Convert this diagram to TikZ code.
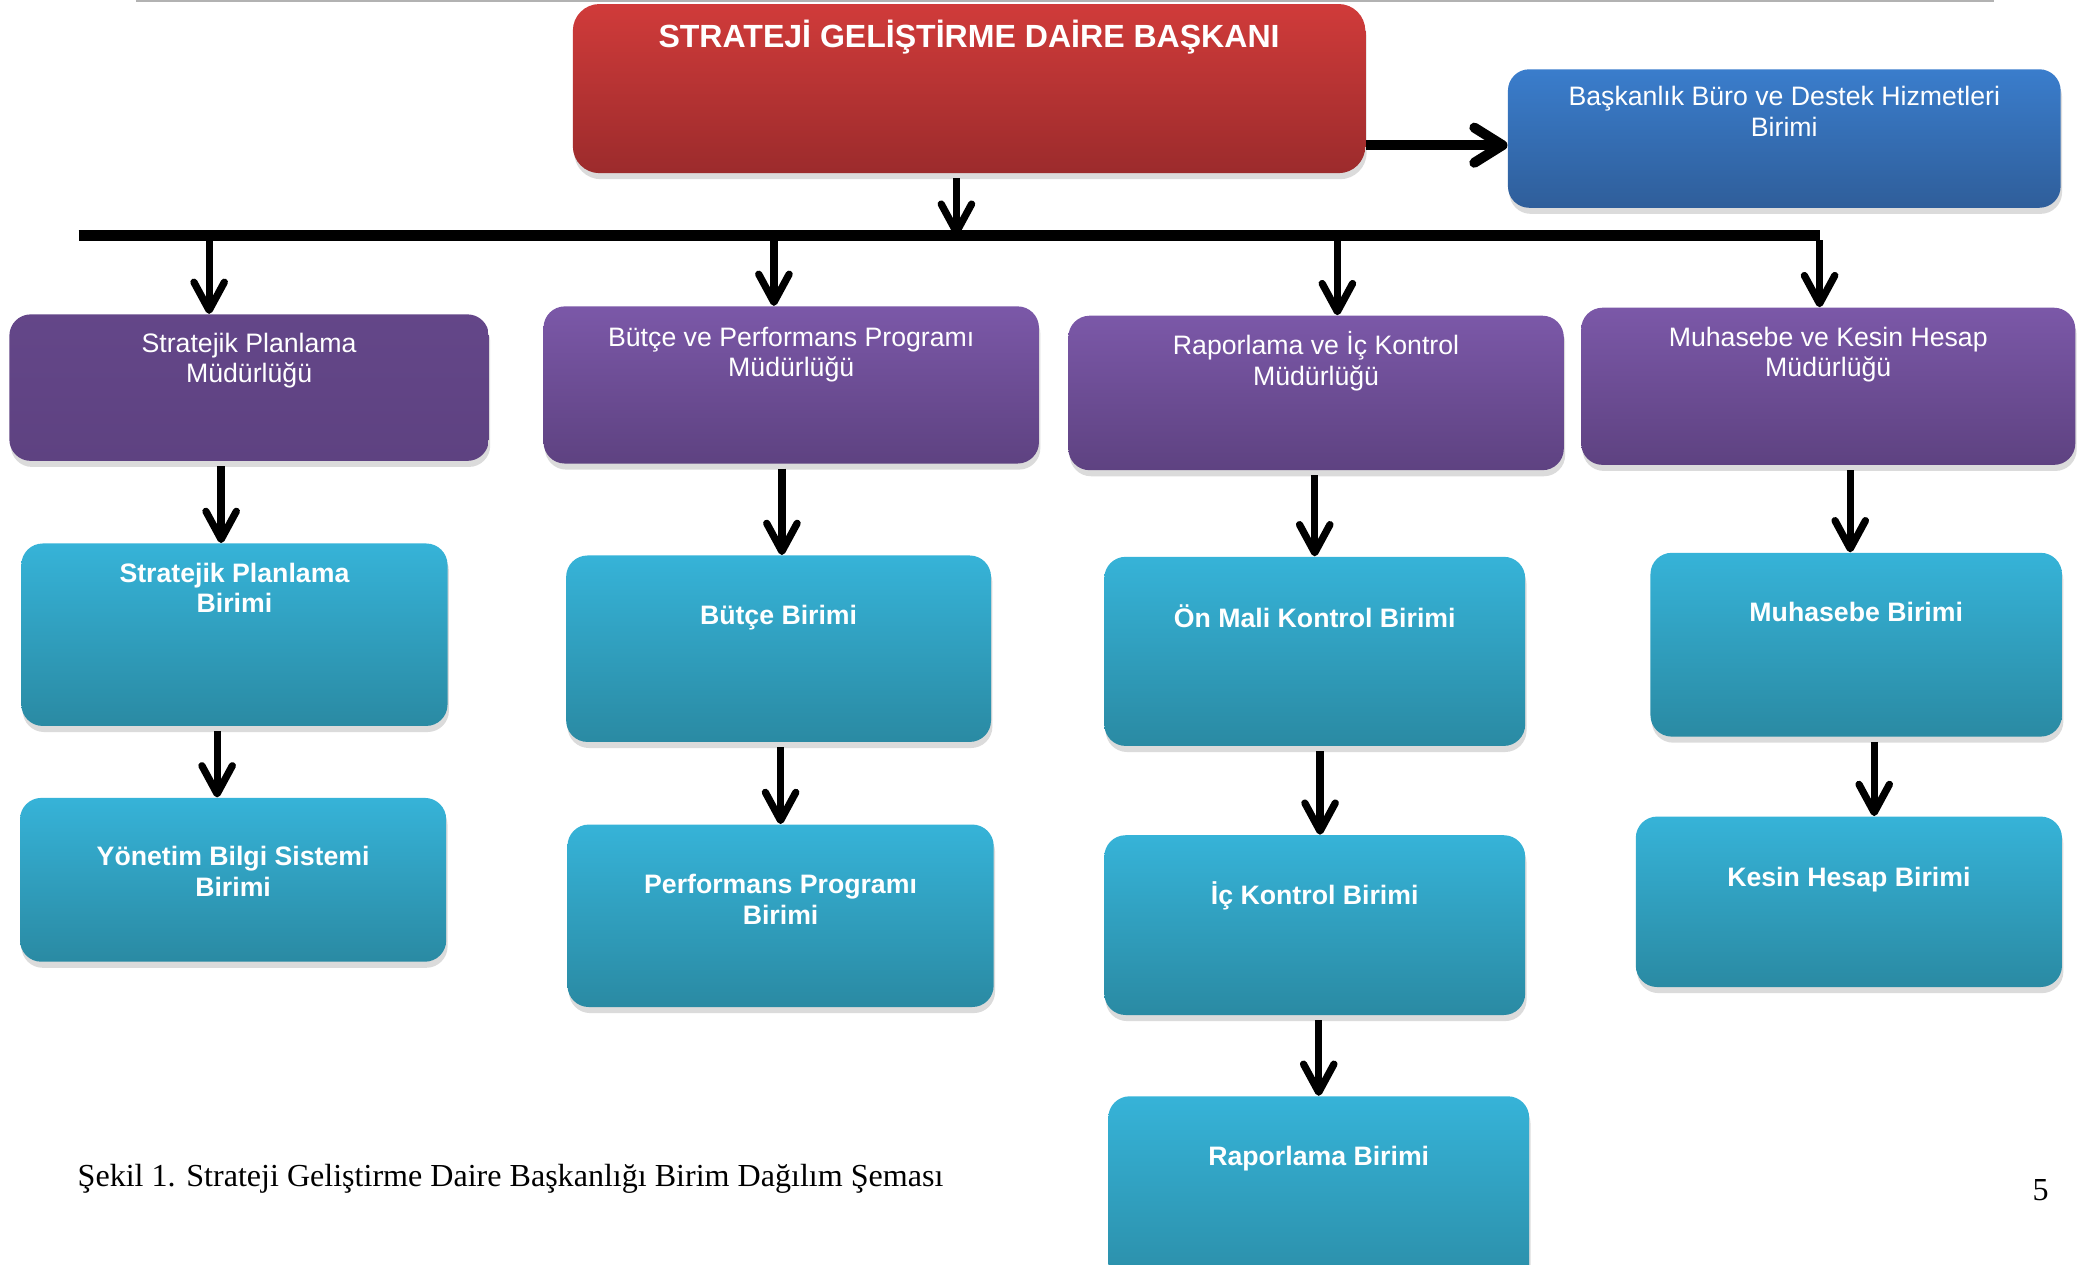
\documentclass[tikz,border=0pt]{standalone}
\usepackage{fontspec}
\setmainfont{Liberation Serif}
\setsansfont{Liberation Sans}
\usepackage{xcolor}
\usepackage{tikz}
\usetikzlibrary{shapes,arrows,arrows.meta,shadows}
\definecolor{chieftop}{HTML}{D03B3A}
\definecolor{chiefbot}{HTML}{9C2B2C}
\definecolor{officetop}{HTML}{3A7DCC}
\definecolor{officebot}{HTML}{2F5E9A}
\definecolor{dirtop}{HTML}{7B58A8}
\definecolor{dirbot}{HTML}{5E4281}
\definecolor{unittop}{HTML}{36B3D8}
\definecolor{unitbot}{HTML}{2A8AA3}
\tikzstyle{box} = [rectangle, rounded corners=0.32cm, inner sep=0pt,
    drop shadow={shadow xshift=0.6pt, shadow yshift=-2.6pt, opacity=1, fill=black!14}]
\tikzstyle{chiefblock} = [box, rounded corners=0.4cm, top color=chieftop, bottom color=chiefbot]
\tikzstyle{officeblock} = [box, top color=officetop, bottom color=officebot]
\tikzstyle{dirblock} = [box, top color=dirtop, bottom color=dirbot]
\tikzstyle{unitblock} = [box, top color=unittop, bottom color=unitbot]
\tikzstyle{boxtext} = [inner sep=0pt, align=center, text=white,
    execute at begin node=\strut, execute at end node=\strut]
\tikzstyle{dirtext} = [boxtext, font=\sffamily\fontsize{11.4}{13.1}\selectfont]
\tikzstyle{unittext} = [boxtext, font=\sffamily\bfseries\fontsize{11.4}{13.1}\selectfont]
\tikzstyle{titletext} = [boxtext, font=\sffamily\bfseries\fontsize{13.7}{16}\selectfont]
\tikzstyle{caption} = [inner sep=0pt, anchor=base west, font=\fontsize{13.7}{16}\selectfont]
\tikzstyle{arrow} = [draw, line width=3.1pt, -{Straight Barb[length=12pt,width=13pt,round]}, shorten <=2pt]
\tikzstyle{widearrow} = [draw, line width=4.3pt, -{Straight Barb[length=12pt,width=15pt,round]}]
\tikzstyle{bus} = [draw, line width=4.8pt]

\begin{document}
\begin{tikzpicture}[x=0.02cm, y=-0.02cm]
    \path [use as bounding box, clip] (0,0) rectangle (1560,949);
    \draw [gray!60, line width=0.8pt] (102,1) -- (1497,1);
    % Place nodes
    \node [chiefblock, minimum width=11.9cm, minimum height=2.54cm] (chief) at (727.5,66.5) {};
    \node [officeblock, minimum width=8.3cm, minimum height=2.08cm] (office) at (1339.5,104) {};
%
    \node [dirblock, top color=dirbot!80!dirtop, bottom color=dirbot, minimum width=7.2cm, minimum height=2.2cm] (p1) at (187,291) {};
    \node [dirblock, minimum width=7.44cm, minimum height=2.36cm] (p2) at (594,289) {};
    \node [dirblock, minimum width=7.44cm, minimum height=2.32cm] (p3) at (988,295) {};
    \node [dirblock, minimum width=7.42cm, minimum height=2.36cm] (p4) at (1372.5,290) {};
%
    \node [unitblock, minimum width=6.4cm, minimum height=2.74cm] (c1) at (176,476.5) {};
    \node [unitblock, minimum width=6.4cm, minimum height=2.46cm] (c2) at (175,660.5) {};
    \node [unitblock, minimum width=6.38cm, minimum height=2.8cm] (c3) at (584.5,487) {};
    \node [unitblock, minimum width=6.4cm, minimum height=2.74cm] (c4) at (586,687.5) {};
    \node [unitblock, minimum width=6.32cm, minimum height=2.84cm] (c5) at (987,489) {};
    \node [unitblock, minimum width=6.32cm, minimum height=2.7cm] (c6) at (987,694.5) {};
    \node [unitblock, minimum width=6.32cm, minimum height=3.14cm] (c7) at (990,901.5) {};
    \node [unitblock, minimum width=6.18cm, minimum height=2.76cm] (c8) at (1393.5,484) {};
    \node [unitblock, minimum width=6.4cm, minimum height=2.56cm] (c9) at (1388,677) {};
    % Texts
    \node [titletext] (chieftext) at ([yshift=-0.54cm]chief.north) {STRATEJİ GELİŞTİRME DAİRE BAŞKANI};
    \node [dirtext] (officetext) at ([yshift=-0.71cm]office.north) {Başkanlık Büro ve Destek Hizmetleri\\Birimi};
    \node [dirtext] (p1text) at ([yshift=-0.73cm]p1.north) {Stratejik Planlama\\Müdürlüğü};
    \node [dirtext] (p2text) at ([yshift=-0.76cm]p2.north) {Bütçe ve Performans Programı\\Müdürlüğü};
    \node [dirtext] (p3text) at ([yshift=-0.72cm]p3.north) {Raporlama ve İç Kontrol\\Müdürlüğü};
    \node [dirtext] (p4text) at ([yshift=-0.74cm]p4.north) {Muhasebe ve Kesin Hesap\\Müdürlüğü};
    \node [unittext] (c1text) at ([yshift=-0.74cm]c1.north) {Stratejik Planlama\\Birimi};
    \node [unittext] (c2text) at ([yshift=-1.18cm]c2.north) {Yönetim Bilgi Sistemi\\Birimi};
    \node [unittext] (c3text) at ([yshift=-0.95cm]c3.north) {Bütçe Birimi};
    \node [unittext] (c4text) at ([yshift=-1.2cm]c4.north) {Performans Programı\\Birimi};
    \node [unittext] (c5text) at ([yshift=-0.97cm]c5.north) {Ön Mali Kontrol Birimi};
    \node [unittext] (c6text) at ([yshift=-0.95cm]c6.north) {İç Kontrol Birimi};
    \node [unittext] (c7text) at ([yshift=-0.95cm]c7.north) {Raporlama Birimi};
    \node [unittext] (c8text) at ([yshift=-0.95cm]c8.north) {Muhasebe Birimi};
    \node [unittext] (c9text) at ([yshift=-0.97cm]c9.north) {Kesin Hesap Birimi};
%
    \node [caption] (figcaption) at (58,891) {Şekil 1. Strateji Geliştirme Daire Başkanlığı Birim Dağılım Şeması};
    \node [caption, anchor=base] (pagenum) at (1532,901) {5};
    % Draw edges
    \coordinate (busL) at (59,177);
    \coordinate (busR) at (1366,177);
    \coordinate (b0) at (718,177);
    \coordinate (b1) at (157,177);
    \coordinate (b2) at (581,177);
    \coordinate (b3) at (1004,177);
    \path [arrow] (chief.south -| b0) -- (b0);
    \path [bus] (busL) -- (busR);
    \path [widearrow] ([yshift=-0.1cm]chief.east |- office.west) -- ([yshift=-0.1cm]office.west);
    \path [arrow] (b1) -- (b1 |- p1.north);
    \path [arrow] (b2) -- (b2 |- p2.north);
    \path [arrow] (b3) -- (b3 |- p3.north);
    \path [arrow] (busR) -- (busR |- p4.north);

    \path [arrow] ([xshift=-0.2cm]c1.north |- p1.south) -- ([xshift=-0.2cm]c1.north);
    \path [arrow] ([xshift=-0.24cm]c2.north |- c1.south) -- ([xshift=-0.24cm]c2.north);
    \path [arrow] ([xshift=0.05cm]c3.north |- p2.south) -- ([xshift=0.05cm]c3.north);
    \path [arrow] (c4.north |- c3.south) -- (c4.north);
    \path [arrow] (c5.north |- p3.south) -- (c5.north);
    \path [arrow] ([xshift=0.08cm]c6.north |- c5.south) -- ([xshift=0.08cm]c6.north);
    \path [arrow] (c7.north |- c6.south) -- (c7.north);
    \path [arrow] ([xshift=-0.09cm]c8.north |- p4.south) -- ([xshift=-0.09cm]c8.north);
    \path [arrow] ([xshift=0.38cm]c9.north |- c8.south) -- ([xshift=0.38cm]c9.north);
\end{tikzpicture}
\end{document}
